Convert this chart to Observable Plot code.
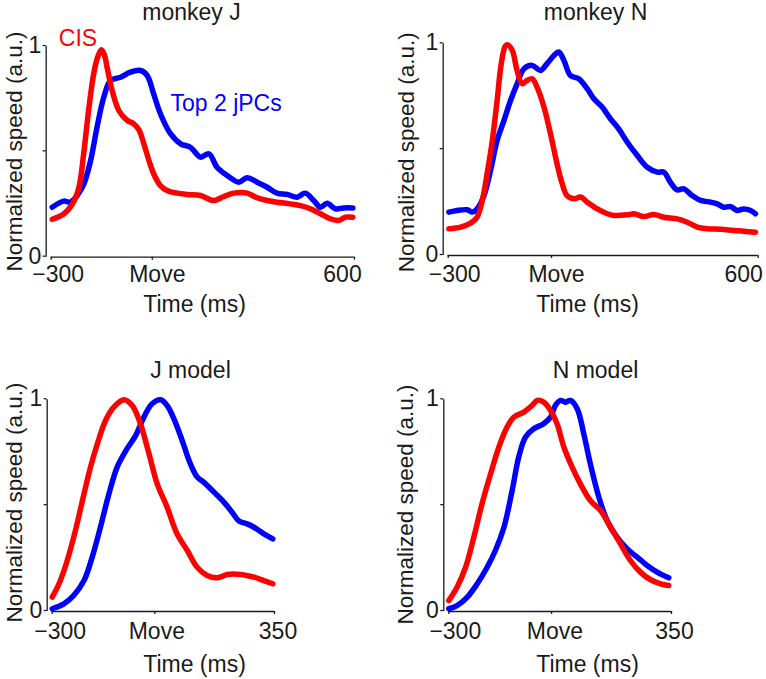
<!DOCTYPE html>
<html><head><meta charset="utf-8">
<script src="https://cdn.jsdelivr.net/npm/d3@7"></script>
<script src="https://cdn.jsdelivr.net/npm/@observablehq/plot@0.6"></script>
<style>
body{margin:0;background:#fff;}
#chart{position:relative;width:766px;height:679px;overflow:hidden;background:#fff;}
.panel{position:absolute;}
</style></head><body><div id="chart"></div>
<script>
// ---- text / categories ----
const titles = ["monkey J", "monkey N", "J model", "N model"];
const xLabel = "Time (ms)";
const yLabel = "Normalized speed (a.u.)";
const seriesNames = ["CIS", "Top 2 jPCs"];
const topXTicks = [-300, 0, 600];
const topXTickLabels = ["\u2212300", "Move", "600"];
const bottomXTicks = [-300, 0, 350];
const bottomXTickLabels = ["\u2212300", "Move", "350"];
const yTicks = [0, 0.5, 1];
const yTickLabels = ["0", "", "1"];

// ---- series values: [time (ms), normalized speed] ----
const monkeyJ_CIS = [[-297,0.18],[-263,0.205],[-238,0.25],[-218,0.33],[-203,0.5],[-188,0.71],[-174,0.87],[-162,0.95],[-151,0.985],[-142,0.96],[-134,0.9],[-119,0.79],[-99,0.695],[-75,0.65],[-55,0.633],[-40,0.605],[-25,0.538],[-10,0.459],[4,0.396],[24,0.34],[44,0.317],[74,0.304],[103,0.298],[143,0.293],[182,0.269],[212,0.288],[242,0.304],[281,0.304],[311,0.282],[341,0.269],[370,0.261],[410,0.253],[440,0.245],[469,0.23],[499,0.206],[529,0.182],[553,0.174],[573,0.19],[595,0.19]];
const monkeyJ_jPCs = [[-297,0.237],[-263,0.266],[-243,0.261],[-223,0.293],[-203,0.348],[-183,0.459],[-164,0.617],[-144,0.759],[-124,0.839],[-94,0.854],[-65,0.878],[-35,0.886],[-15,0.862],[4,0.775],[24,0.681],[54,0.586],[84,0.538],[113,0.522],[143,0.475],[168,0.491],[192,0.427],[222,0.388],[257,0.356],[281,0.377],[311,0.356],[341,0.332],[370,0.304],[400,0.298],[430,0.285],[454,0.304],[479,0.269],[499,0.237],[519,0.256],[543,0.23],[568,0.234],[595,0.234]];
const monkeyN_CIS = [[-298,0.126],[-264,0.134],[-235,0.153],[-216,0.181],[-201,0.26],[-187,0.386],[-172,0.543],[-158,0.732],[-146,0.906],[-134,0.99],[-127,0.995],[-114,0.969],[-100,0.874],[-85,0.811],[-71,0.827],[-56,0.835],[-42,0.795],[-22,0.701],[-3,0.575],[16,0.433],[31,0.339],[45,0.283],[65,0.268],[84,0.276],[104,0.252],[133,0.22],[162,0.197],[181,0.189],[220,0.192],[239,0.197],[268,0.184],[297,0.194],[326,0.181],[365,0.173],[394,0.157],[423,0.134],[452,0.126],[491,0.124],[529,0.118],[558,0.115],[592,0.11]];
const monkeyN_jPCs = [[-298,0.205],[-274,0.213],[-245,0.216],[-230,0.205],[-216,0.22],[-196,0.283],[-177,0.402],[-158,0.543],[-138,0.638],[-119,0.732],[-100,0.811],[-80,0.882],[-56,0.898],[-32,0.874],[-13,0.906],[7,0.945],[21,0.961],[36,0.921],[55,0.85],[79,0.835],[104,0.787],[123,0.74],[147,0.701],[171,0.646],[195,0.598],[220,0.535],[249,0.472],[278,0.417],[307,0.394],[326,0.394],[345,0.346],[365,0.31],[384,0.315],[408,0.283],[433,0.26],[462,0.252],[481,0.244],[500,0.228],[520,0.231],[539,0.213],[558,0.22],[578,0.213],[592,0.197]];
const modelJ_CIS = [[-300,0.068],[-280,0.131],[-256,0.241],[-232,0.383],[-207,0.556],[-188,0.682],[-168,0.792],[-144,0.902],[-120,0.965],[-90,1.0],[-66,0.973],[-42,0.887],[-17,0.745],[7,0.603],[36,0.493],[65,0.367],[95,0.288],[124,0.209],[153,0.17],[182,0.159],[212,0.175],[251,0.175],[290,0.162],[319,0.146],[345,0.131]];
const modelJ_jPCs = [[-300,0.013],[-266,0.036],[-237,0.076],[-207,0.146],[-183,0.257],[-159,0.398],[-134,0.556],[-110,0.682],[-81,0.769],[-56,0.831],[-32,0.918],[-8,0.981],[17,1.0],[36,0.973],[56,0.91],[80,0.808],[104,0.698],[124,0.635],[143,0.611],[173,0.564],[202,0.517],[226,0.469],[246,0.427],[270,0.414],[290,0.398],[319,0.367],[345,0.343]];
const modelN_CIS = [[-300,0.052],[-276,0.115],[-251,0.209],[-227,0.351],[-203,0.509],[-178,0.65],[-154,0.776],[-130,0.871],[-110,0.918],[-81,0.942],[-57,0.973],[-42,0.997],[-23,0.989],[-3,0.95],[16,0.887],[36,0.776],[60,0.682],[84,0.603],[113,0.524],[143,0.477],[172,0.398],[201,0.32],[230,0.241],[259,0.186],[289,0.15],[318,0.131],[342,0.123]];
const modelN_jPCs = [[-300,0.013],[-276,0.028],[-246,0.068],[-217,0.131],[-188,0.209],[-164,0.288],[-139,0.398],[-115,0.572],[-96,0.729],[-76,0.824],[-52,0.863],[-23,0.887],[-3,0.918],[11,0.973],[26,0.997],[40,0.989],[55,0.997],[75,0.957],[94,0.839],[113,0.698],[138,0.54],[162,0.43],[191,0.351],[220,0.296],[250,0.257],[279,0.217],[308,0.186],[342,0.159]];

// ---- layout (page pixel geometry, styling only) ----
const layout = [
  {left:0, top:0, w:383, h:330, fl:50.7, fr:354, ft:46, fb:256.7, titleX:191, titleBase:19, xlabX:194, xlabBase:311.7, tickBase:281.7, ylabX:21, ylabY:151, tickDx:[7,5,-12]},
  {left:383, top:0, w:383, h:330, fl:447.7, fr:757.7, ft:43.3, fb:255, titleX:595, titleBase:19, xlabX:587, xlabBase:311.7, tickBase:281.5, ylabX:413, ylabY:151.7, tickDx:[6.5,5,-14.5]},
  {left:0, top:330, w:383, h:349, fl:51.7, fr:274, ft:399.3, fb:611, titleX:190, titleBase:377, xlabX:194, xlabBase:671.7, tickBase:638.3, ylabX:21, ylabY:502, tickDx:[8,2,3.5]},
  {left:383, top:330, w:383, h:349, fl:448.3, fr:671, ft:399.3, fb:611, titleX:595, titleBase:377, xlabX:587, xlabBase:671.7, tickBase:638.3, ylabX:412, ylabY:504, tickDx:[6.5,3.3,3]}
];
const RED = "#ff0000", BLUE = "#0000ff", INK = "#1a1a1a";
const FONT = "'Liberation Sans', Arial, Helvetica, sans-serif";
const FS = 23;
const FS_Y = 22.5;

function panel(cfg, title, xTicks, xTickLabels, cis, jpcs, annotate) {
  const ml = cfg.fl - cfg.left, mr = cfg.left + cfg.w - cfg.fr;
  const mt = cfg.ft - cfg.top, mb = cfg.top + cfg.h - cfg.fb;
  const cx = (cfg.fl + cfg.fr) / 2, cy = (cfg.ft + cfg.fb) / 2;
  const marks = [
    // y axis line (offset to the left), ticks & labels
    Plot.ruleX([xTicks[0]], {y1: yTicks[0], y2: yTicks[yTicks.length - 1], dx: -5, stroke: INK, strokeWidth: 1.3}),
    Plot.axisY({ticks: yTicks, tickFormat: d => yTickLabels[yTicks.indexOf(d)], tickSize: 3, tickPadding: 2, dx: -5, dy: -1, label: null, stroke: INK, fill: INK, strokeWidth: 1.3, fontSize: FS}),
    // x axis line and ticks (labels drawn below as text marks)
    Plot.ruleY([yTicks[0]], {stroke: INK, strokeWidth: 1.3}),
    Plot.axisX({ticks: xTicks, tickSize: 3, tickFormat: () => "", label: null, stroke: INK, strokeWidth: 1.3}),
    ...xTicks.map((t, i) => Plot.text([t], {x: d => d, text: () => xTickLabels[i], frameAnchor: "bottom", textAnchor: "middle", lineAnchor: "bottom", dy: cfg.tickBase - cfg.fb, dx: cfg.tickDx[i], fill: INK, fontSize: FS})),
    // series
    Plot.line(jpcs, {x: d => d[0], y: d => d[1], stroke: BLUE, strokeWidth: 5.5, curve: "catmull-rom", strokeLinejoin: "round"}),
    Plot.line(cis, {x: d => d[0], y: d => d[1], stroke: RED, strokeWidth: 5.5, curve: "catmull-rom", strokeLinejoin: "round"}),
    // title and axis labels
    Plot.text([title], {text: d => d, frameAnchor: "top", textAnchor: "middle", lineAnchor: "bottom", dx: cfg.titleX - cx, dy: cfg.titleBase - cfg.ft, fill: INK, fontSize: FS}),
    Plot.text([xLabel], {text: d => d, frameAnchor: "bottom", textAnchor: "middle", lineAnchor: "bottom", dx: cfg.xlabX - cx, dy: cfg.xlabBase - cfg.fb, fill: INK, fontSize: FS}),
    Plot.text([yLabel], {text: d => d, frameAnchor: "left", textAnchor: "middle", rotate: -90, lineAnchor: "bottom", dx: cfg.ylabX - cfg.fl, dy: cfg.ylabY - cy, fill: INK, fontSize: FS_Y})
  ];
  if (annotate) {
    marks.push(
      Plot.text([seriesNames[0]], {text: d => d, frameAnchor: "top-left", textAnchor: "start", lineAnchor: "bottom", dx: 7.6, dy: -1, fill: RED, fontSize: FS}),
      Plot.text([seriesNames[1]], {text: d => d, frameAnchor: "top-left", textAnchor: "start", lineAnchor: "bottom", dx: 119.3, dy: 64, fill: BLUE, fontSize: FS})
    );
  }
  const svg = Plot.plot({
    width: cfg.w, height: cfg.h,
    marginLeft: ml, marginRight: mr, marginTop: mt, marginBottom: mb,
    x: {domain: [xTicks[0], xTicks[xTicks.length - 1]]},
    y: {domain: [yTicks[0], yTicks[yTicks.length - 1]]},
    style: {fontFamily: FONT, fontSize: FS + "px", background: "white", overflow: "visible", color: INK},
    marks
  });
  const div = document.createElement("div");
  div.className = "panel";
  div.style.left = cfg.left + "px";
  div.style.top = cfg.top + "px";
  div.appendChild(svg);
  document.getElementById("chart").appendChild(div);
}

panel(layout[0], titles[0], topXTicks, topXTickLabels, monkeyJ_CIS, monkeyJ_jPCs, true);
panel(layout[1], titles[1], topXTicks, topXTickLabels, monkeyN_CIS, monkeyN_jPCs, false);
panel(layout[2], titles[2], bottomXTicks, bottomXTickLabels, modelJ_CIS, modelJ_jPCs, false);
panel(layout[3], titles[3], bottomXTicks, bottomXTickLabels, modelN_CIS, modelN_jPCs, false);
</script></body></html>
